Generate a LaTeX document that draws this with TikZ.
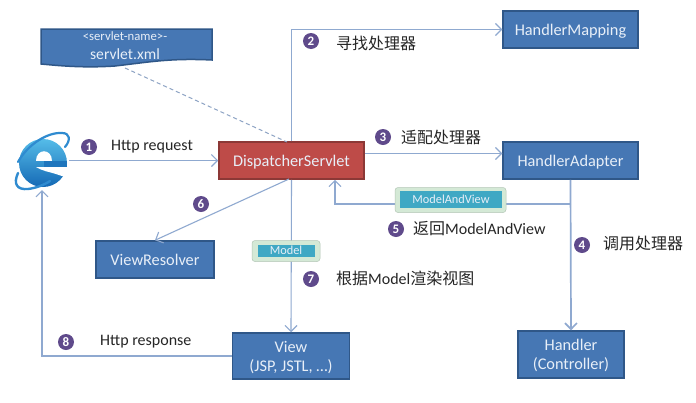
\documentclass[tikz,border=0pt]{standalone}
\usepackage{fontspec}
\setmainfont{Carlito}
\newfontfamily\cjk{Noto Sans CJK SC}
\usetikzlibrary{arrows.meta,calc}
\definecolor{boxblue}{HTML}{4677B4}
\definecolor{boxedge}{HTML}{2F5788}
\definecolor{redfill}{HTML}{BE4B48}
\definecolor{rededge}{HTML}{8C3836}
\definecolor{linkc}{HTML}{8FA9D0}
\definecolor{numc}{HTML}{5F4A8B}
\definecolor{tagc}{HTML}{3FA8C4}
\definecolor{tagbg}{HTML}{D4E9D6}
\definecolor{labelc}{HTML}{262626}
\definecolor{bodytext}{HTML}{E8EFF8}
\definecolor{ietop}{HTML}{55BCE8}
\definecolor{iebot}{HTML}{1569B5}
\definecolor{iering}{HTML}{2F8BD0}
\tikzset{
  x=1pt,y=-1pt,
  blockbox/.style={draw=boxedge,line width=1.5pt,fill=boxblue,text=bodytext,font=\fontsize{16.3}{19}\selectfont,align=center,inner sep=0pt,minimum width=#1,text depth=0pt},
  link/.style={draw=linkc,line width=1.1pt,-{Straight Barb[length=6pt,width=12pt]}},
  numdot/.style={circle,fill=numc,text=white,inner sep=0pt,minimum size=16pt,font=\fontsize{13}{13}\selectfont\bfseries},
  lab/.style={text=labelc,font=\fontsize{16}{18}\selectfont,anchor=west,inner sep=0pt},
  latin/.style={text=labelc,font=\fontsize{16}{18}\selectfont,anchor=west,inner sep=0pt},
  tagouter/.style={fill=tagbg,draw=tagbg!85!black,line width=.5pt,rounded corners=3pt,inner sep=0pt},
  taginner/.style={fill=tagc,text=bodytext,inner sep=0pt,font=\fontsize{12.3}{13}\selectfont},
}
\begin{document}
\begin{tikzpicture}
\useasboundingbox (0,0) rectangle (696,402);
\fill[white] (0,0) rectangle (696,402);

% IE logo
\shade[top color=ietop,bottom color=iebot] (43,163) circle[radius=24pt];
\fill[white] (36,161) .. controls (36,148) and (52,148) .. (52,161) -- cycle;
\fill[white] (36,167) -- (68,167) -- (68,178) -- (56,174) .. controls (50,172) and (42,171) .. (36,167) -- cycle;
\fill[iebot!85!ietop] (44,161) rectangle (67,166.5);
\draw[iering,line width=2.2pt,line cap=round] (65,147) .. controls (71,140) and (70,133) .. (62,133)
  .. controls (48,132) and (28,144) .. (18,162);
\draw[iering,line width=2.4pt,line cap=round] (18,173) .. controls (13,184) and (17,190) .. (28,189)
  .. controls (36,188) and (44,185) .. (50,181);

% nodes
\node[inner sep=0pt,minimum width=54pt,minimum height=58pt] (iconnode) at (42,161) {};
\node[blockbox=135pt,minimum height=37pt] (mapping) at (570.5,29.5) {HandlerMapping};
\node[blockbox=135pt,minimum height=37pt] (adapter) at (570.5,160.5) {HandlerAdapter};
\node[blockbox=145pt,minimum height=37pt,fill=redfill,draw=rededge] (dispatch) at (291.5,160.5) {DispatcherServlet};
\node[blockbox=118pt,minimum height=37pt] (resolver) at (155,259.5) {ViewResolver};
\node[blockbox=117pt,minimum height=46pt] (view) at (291,356) {View\\(JSP, JSTL, …)};
\node[blockbox=106pt,minimum height=47pt] (handler) at (571,354.5) {Handler\\(Controller)};

% servlet.xml
\draw[draw=boxedge,line width=1.5pt,fill=boxblue] (41,29) -- (212,29) -- (212,60)
  .. controls (170,58) and (150,62) .. (115,66)
  .. controls (85,68) and (62,66) .. (41,64) -- cycle;
\node[inner sep=0pt,text=bodytext,font=\fontsize{12.7}{14}\selectfont] (sname) at (125,36) {<servlet-name>-};
\node[inner sep=0pt,text=bodytext,font=\fontsize{15.6}{17}\selectfont] (sxml) at (125,54) {servlet.xml};
\coordinate (xmlfoot) at (125,68);

% connectors
\draw[draw=linkc!85!gray,line width=1pt,dash pattern=on 4pt off 3pt] (xmlfoot) -- (287,142);
\draw[link] (iconnode.east |- dispatch.west) -- (dispatch.west);
\draw[link] (dispatch.north) |- (mapping.west);
\draw[link] ([yshift=7pt]dispatch.east) -- ([yshift=7pt]adapter.west);
\draw[link,line width=1.7pt] (adapter.south) -- (handler.north);
\coordinate (backr) at (571,204);
\coordinate (backl) at (335,204);
\draw[link] (backr) -- (backl) -- (backl |- dispatch.south);
\draw[link] (289,179) -- (resolver.north);
\draw[link] (dispatch.south) -- (view.north);
\coordinate (backbot) at (42,356);
\draw[link] (view.west) -- (backbot) -- (42,190);

% tags
\node[tagouter,minimum width=111pt,minimum height=25pt] (mavouter) at (450.5,200) {};
\node[taginner,minimum width=102pt,minimum height=17pt] (mav) at (451,199) {ModelAndView};
\node[tagouter,minimum width=68pt,minimum height=21pt] (modelouter) at (286,251) {};
\node[taginner,minimum width=57pt,minimum height=12pt] (model) at (286,250.5) {Model};

% numbers and labels
\node[numdot] (n1) at (89,147) {1};
\node[latin] (l1) at (111,147) {Http request};
\node[numdot] (n2) at (311,41) {2};
\node[lab] (l2) at (336,43) {{\cjk 寻找处理器}};
\node[numdot] (n3) at (383,137) {3};
\node[lab] (l3) at (401,137) {{\cjk 适配处理器}};
\node[numdot] (n4) at (582,245) {4};
\node[lab] (l4) at (603,243) {{\cjk 调用处理器}};
\node[numdot] (n5) at (396,229) {5};
\node[lab] (l5) at (413,229) {{\cjk 返回}ModelAndView};
\node[numdot] (n6) at (201,204) {6};
\node[numdot] (n7) at (311,279) {7};
\node[lab] (l7) at (336,278) {{\cjk 根据}Model{\cjk 渲染视图}};
\node[numdot] (n8) at (66,342) {8};
\node[latin] (l8) at (100,342) {Http response};
\end{tikzpicture}
\end{document}
